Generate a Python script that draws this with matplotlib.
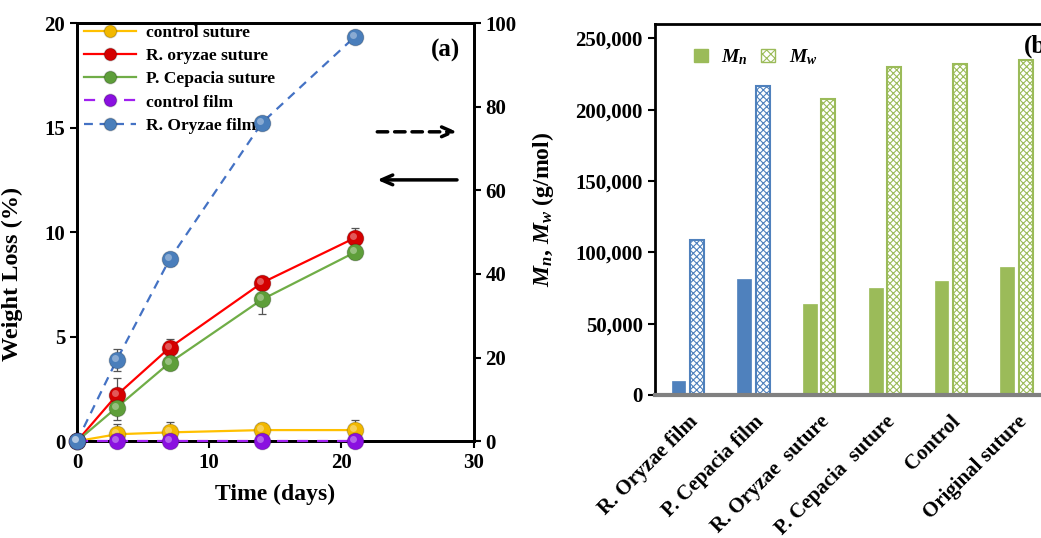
import matplotlib
matplotlib.use("Agg")
import matplotlib.pyplot as plt
import matplotlib.transforms as mtransforms
from matplotlib.patches import Patch
from matplotlib.lines import Line2D
from matplotlib.ticker import FuncFormatter

plt.rcParams['font.family'] = ['Liberation Serif', 'DejaVu Serif']
plt.rcParams['font.weight'] = 'bold'
plt.rcParams['axes.labelweight'] = 'bold'
plt.rcParams['mathtext.fontset'] = 'custom'
plt.rcParams['mathtext.rm'] = 'Liberation Serif:bold'
plt.rcParams['mathtext.it'] = 'Liberation Serif:italic:bold'
plt.rcParams['mathtext.bf'] = 'Liberation Serif:bold'
plt.rcParams['mathtext.bfit'] = 'Liberation Serif:italic:bold'
plt.rcParams['hatch.linewidth'] = 0.8

# ---------------- data: panel (a) ----------------
days = [0, 3, 7, 14, 21]
control_suture = [0.0, 0.33, 0.42, 0.53, 0.53]
control_suture_err = [0.0, 0.5, 0.5, 0.35, 0.5]
roryzae_suture = [0.0, 2.2, 4.47, 7.58, 9.72]
roryzae_suture_err = [0.0, 0.8, 0.4, 0.25, 0.5]
pcepacia_suture = [0.0, 1.61, 3.75, 6.78, 9.03]
pcepacia_suture_err = [0.0, 0.6, 0.3, 0.7, 0.3]
control_film = [0.0, 0.0, 0.0, 0.0, 0.0]
control_film_err = [0.0, 0.0, 0.0, 0.0, 0.0]
roryzae_film = [0.0, 19.4, 43.5, 76.2, 96.7]
roryzae_film_err = [0.0, 2.6, 1.5, 1.2, 1.0]

# ---------------- data: panel (b) ----------------
samples = ["R. Oryzae film", "P. Cepacia film", "R. Oryzae  suture",
           "P. Cepacia  suture", "Control", "Original suture"]
Mn = [10000, 81000, 63700, 74700, 79600, 89400]
Mw = [108500, 216500, 207800, 229800, 231800, 234700]

BLUE = '#4F81BD'
GREEN = '#9BBB59'
bar_colors = [BLUE, BLUE, GREEN, GREEN, GREEN, GREEN]

fig = plt.figure(figsize=(10.41, 5.38), dpi=100)

# ---------------- panel (a) ----------------
axa = fig.add_axes([0.074, 0.180, 0.381, 0.777])
axr = axa.twinx()

series_left = [
    ("control suture", control_suture, control_suture_err, '#FFC000', '#F2B800', '-'),
    ("R. oryzae suture", roryzae_suture, roryzae_suture_err, '#FF0000', '#D40000', '-'),
    ("P. Cepacia suture", pcepacia_suture, pcepacia_suture_err, '#70AD47', '#5E9E3A', '-'),
]
series_right = [
    ("control film", control_film, control_film_err, '#A020F0', '#8A10E0', (0, (5, 4))),
    ("R. Oryzae film", roryzae_film, roryzae_film_err, '#4472C4', '#4A7EBB', (0, (4, 3))),
]

handles = []
def draw(ax, name, vals, err, lc, mc, ls):
    ax.errorbar(days, vals, yerr=err, fmt='none', ecolor='#555555',
                elinewidth=0.9, capsize=3, capthick=0.9, zorder=3, clip_on=False)
    ax.plot(days, vals, color=lc, linestyle=ls, lw=1.6, zorder=4, clip_on=False)
    ax.plot(days, vals, linestyle='none', marker='o', ms=12, mfc=mc,
            mec='#00000033', mew=0.8, zorder=5, clip_on=False)
    hl = mtransforms.offset_copy(ax.transData, fig=fig, x=-2, y=2, units='dots')
    ax.plot(days, vals, linestyle='none', marker='o', ms=5, mfc='white',
            mec='none', alpha=0.35, zorder=6, clip_on=False, transform=hl)
    handles.append(Line2D([], [], color=lc, linestyle=ls, lw=1.6, marker='o',
                          ms=9, mfc=mc, mec='#00000033', label=name))

for s in series_left:
    draw(axa, *s)
for s in series_right:
    draw(axr, *s)

axa.set_xlim(0, 30)
axa.set_ylim(0, 20)
axr.set_ylim(0, 100)
axa.set_xticks([0, 10, 20, 30])
axa.set_yticks([0, 5, 10, 15, 20])
axr.set_yticks([0, 20, 40, 60, 80, 100])
for ax in (axa, axr):
    for sp in ax.spines.values():
        sp.set_linewidth(2)
        sp.set_color('black')
    ax.tick_params(labelsize=15, width=1.5, length=5, direction='out')
axa.set_xlabel("Time (days)", fontsize=17, fontweight='bold', labelpad=8)
axa.set_ylabel("Weight Loss (%)", fontsize=17.5, fontweight='bold')
axa.yaxis.set_label_coords(-0.135, 0.40)

leg = axa.legend(handles=handles, loc='upper left', frameon=False, fontsize=12.5,
                 handlelength=3.0, borderaxespad=0.0, labelspacing=0.4,
                 bbox_to_anchor=(0.0, 1.012), handletextpad=0.6)
axa.text(0.965, 0.935, "(a)", transform=axa.transAxes, ha='right', va='center',
         fontsize=18, fontweight='bold')

axa.annotate("", xy=(0.965, 0.740), xytext=(0.75, 0.740), xycoords='axes fraction',
             arrowprops=dict(arrowstyle='->,head_length=0.8,head_width=0.35',
                             lw=2.5, linestyle=(0, (3, 2)), color='black'))
axa.annotate("", xy=(0.75, 0.625), xytext=(0.965, 0.625), xycoords='axes fraction',
             arrowprops=dict(arrowstyle='->,head_length=0.8,head_width=0.35',
                             lw=2.5, color='black'))

# ---------------- panel (b) ----------------
axb = fig.add_axes([0.629, 0.266, 0.379, 0.689])
x = list(range(len(samples)))
w = 0.21
off = 0.14
axb.bar([i - off for i in x], Mn, width=w, color=bar_colors, edgecolor=bar_colors, lw=0.5, zorder=2)
for i in x:
    axb.bar(i + off, Mw[i], width=w, color='white', edgecolor=bar_colors[i],
            hatch='xxxxx', lw=1.5, zorder=2)
axb.set_xlim(-0.5, 5.5)
axb.set_ylim(0, 260000)
axb.set_yticks([0, 50000, 100000, 150000, 200000, 250000])
axb.yaxis.set_major_formatter(FuncFormatter(lambda v, p: f"{int(v):,}"))
axb.set_xticks(x)
axb.set_xticklabels(samples, rotation=45, ha='right', rotation_mode='anchor',
                    fontsize=15, fontweight='bold')
axb.tick_params(axis='x', length=0, pad=12)
axb.tick_params(axis='y', labelsize=15, width=1.5, length=5, direction='out')
axb.spines['left'].set_linewidth(2)
axb.spines['top'].set_linewidth(2)
axb.spines['right'].set_visible(False)
axb.spines['bottom'].set_linewidth(3)
axb.spines['bottom'].set_color('#808080')
axb.set_ylabel(r"$\mathbfit{M}_{\mathbfit{n}}$, $\mathbfit{M}_{\mathbfit{w}}$ (g/mol)",
               fontsize=17, fontweight='bold', labelpad=14)
axb.text(0.935, 0.94, "(b)", transform=axb.transAxes, ha='left', va='center',
         fontsize=18, fontweight='bold')
lh = [Patch(facecolor=GREEN, edgecolor=GREEN, label=r"$\mathbfit{M}_{\mathbfit{n}}$"),
      Patch(facecolor='white', edgecolor=GREEN, hatch='xxxx', label=r"$\mathbfit{M}_{\mathbfit{w}}$")]
axb.legend(handles=lh, loc='upper left', bbox_to_anchor=(0.055, 0.985), ncol=2,
           frameon=False, fontsize=14, handlelength=0.7, handleheight=0.7,
           columnspacing=0.7, handletextpad=0.7)

fig.savefig("out.png", dpi=100)
